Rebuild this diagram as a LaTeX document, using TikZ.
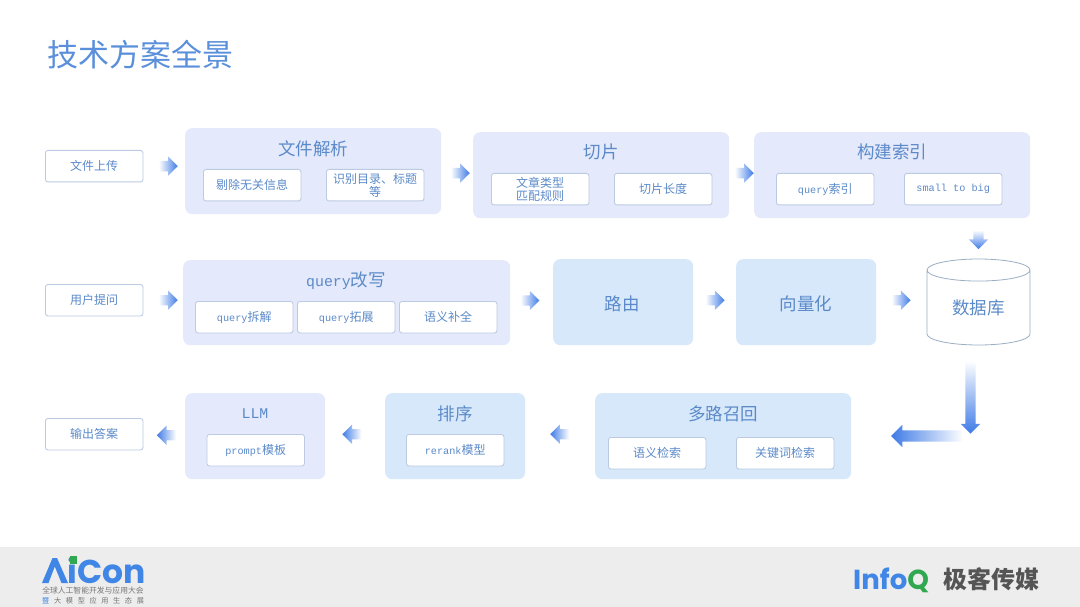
\documentclass[tikz,border=0pt]{standalone}
\usepackage{fontspec}
\usetikzlibrary{shapes.arrows,shapes.geometric,calc}
\setmainfont{Noto Sans CJK SC}
\setmonofont[Scale=0.85]{Liberation Mono}
\newfontfamily\logofont{Poppins}
\definecolor{txtblue}{HTML}{5B8AC9}
\definecolor{titleblue}{HTML}{5A8FDB}
\definecolor{panelA}{HTML}{E4E9FB}
\definecolor{panelB}{HTML}{D7E8FB}
\definecolor{edgeblue}{HTML}{BCCBE2}
\definecolor{arrowblue}{HTML}{3F7BE6}
\definecolor{footgrey}{HTML}{EDEDED}
\definecolor{logoblue}{HTML}{3F86E6}
\definecolor{logogreen}{HTML}{2FA84F}
\definecolor{logogrey}{HTML}{555555}
\definecolor{dbedge}{HTML}{9AAEC4}
\tikzset{
  panel/.style={fill=#1,rounded corners=7pt,draw=none,anchor=north west,inner sep=0pt},
  ptitle/.style={font=\fontsize{17.5}{20}\selectfont,text=txtblue,inner sep=0pt},
  bigtxt/.style={font=\fontsize{17.5}{20}\selectfont,text=txtblue,align=center,inner sep=0pt},
  inbox/.style={draw=edgeblue,line width=0.9pt,fill=white,rounded corners=2.5pt,anchor=north west,
    minimum width=97.5pt,minimum height=31.5pt,inner sep=0pt,align=center,text=txtblue,
    font=\fontsize{12}{13.5}\selectfont},
  arrbase/.style={single arrow,draw=none,inner sep=0pt,single arrow head extend=4.5pt,single arrow tip angle=90,
    minimum width=19pt,minimum height=19pt},
  arrR/.style={arrbase,left color=white,right color=arrowblue,xshift=-3.5pt},
  arrL/.style={arrbase,shape border rotate=180,left color=arrowblue,right color=white,xshift=3.5pt},
  arrD/.style={arrbase,shape border rotate=270,top color=white,bottom color=arrowblue}
}
\newcommand{\qq}[1]{{\ttfamily #1}}
\newcommand{\shaft}{\rule{0pt}{10pt}}
\newcommand{\vshaft}{\rule{10pt}{0pt}}
\begin{document}
\begin{tikzpicture}[x=1pt,y=-1pt]
\useasboundingbox (0,0) rectangle (1080,607);
\fill[white] (0,0) rectangle (1080,607);
\fill[footgrey] (0,547) rectangle (1080,607);

\node[anchor=west,inner sep=0pt,text=titleblue,font=\fontsize{31}{34}\selectfont] (title) at (47,55) {技术方案全景};

% row 1
\node[inbox] (upload) at (45,150) {文件上传};
\node[panel=panelA,minimum width=256pt,minimum height=86pt] (parse) at (185,128) {};
\node[ptitle] (parseT) at (313,149) {文件解析};
\node[inbox] (p1) at (203,169) {剔除无关信息};
\node[inbox] (p2) at (326,169) {识别目录、标题\\等};
\node[panel=panelA,minimum width=256pt,minimum height=86pt] (slice) at (473,132) {};
\node[ptitle] (sliceT) at (601,152) {切片};
\node[inbox] (s1) at (491,173) {文章类型\\匹配规则};
\node[inbox] (s2) at (614,173) {切片长度};
\node[panel=panelA,minimum width=276pt,minimum height=86pt] (index) at (754,132) {};
\node[ptitle] (indexT) at (892,152) {构建索引};
\node[inbox] (i1) at (776,173) {\qq{query}索引};
\node[inbox] (i2) at (904,173) {\qq{small to big}};

% row 2
\node[inbox] (ask) at (45,284) {用户提问};
\node[panel=panelA,minimum width=327pt,minimum height=85pt] (rewrite) at (183,260) {};
\node[ptitle] (rewriteT) at (346,281) {\qq{query}改写};
\node[inbox] (r1) at (195,301) {\qq{query}拆解};
\node[inbox] (r2) at (297,301) {\qq{query}拓展};
\node[inbox] (r3) at (399,301) {语义补全};
\node[panel=panelB,minimum width=140pt,minimum height=86pt,anchor=north west] (route) at (553,259) {};
\node[bigtxt] (routeT) at (622,304) {路由};
\node[panel=panelB,minimum width=140pt,minimum height=86pt,anchor=north west] (vector) at (736,259) {};
\node[bigtxt] (vectorT) at (806,304) {向量化};
\node[cylinder,shape border rotate=90,aspect=0.42,draw=dbedge,line width=0.8pt,fill=white,anchor=shape center,
  minimum width=103pt,minimum height=86pt,inner sep=0pt,bigtxt] (db) at (978.5,302) {数据库};

% row 3
\node[inbox] (output) at (45,418) {输出答案};
\node[panel=panelA,minimum width=140pt,minimum height=86pt] (llm) at (185,393) {};
\node[ptitle] (llmT) at (255,414) {\qq{LLM}};
\node[inbox] (l1) at (206.5,434) {\qq{prompt}模板};
\node[panel=panelB,minimum width=140pt,minimum height=86pt] (rank) at (385,393) {};
\node[ptitle] (rankT) at (455,414) {排序};
\node[inbox] (k1) at (406,434) {\qq{rerank}模型};
\node[panel=panelB,minimum width=256pt,minimum height=86pt] (recall) at (595,393) {};
\node[ptitle] (recallT) at (723,414) {多路召回};
\node[inbox] (c1) at (608,437) {语义检索};
\node[inbox] (c2) at (736,437) {关键词检索};

% block arrows, each placed on the way between its two boxes
\path (upload.east) -- (upload.east -| parse.west) node[arrR,pos=0.62] (a1) {\shaft};
\path (parse.east) ++(0,2) -- ($(slice.west)+(0,-2)$) node[arrR,pos=0.625] (a2) {\shaft};
\path (slice.east) -- (index.west) node[arrR,pos=0.64,yshift=2pt] (a3) {\shaft};
\path (index.south -| db.north) -- (db.north) node[arrD,pos=0.5,yshift=1.5pt] (a4) {\vshaft};
\path (ask.east) -- (ask.east -| rewrite.west) node[arrR,pos=0.65] (a5) {\shaft};
\path (rewrite.east) -- (route.west) node[arrR,pos=0.48,yshift=2pt] (a6) {\shaft};
\path (route.east) -- (vector.west) node[arrR,pos=0.53,yshift=2pt] (a7) {\shaft};
\path (vector.east) -- (vector.east -| db.west) node[arrR,pos=0.51,yshift=2pt] (a8) {\shaft};
\path (recall.west) -- (rank.east) node[arrL,pos=0.52,yshift=2pt] (a9) {\shaft};
\path (rank.west) -- (llm.east) node[arrL,pos=0.57,yshift=2pt] (a10) {\shaft};
\path (llm.west) -- (output.east) node[arrL,pos=0.47] (a11) {\shaft};

% two-part arrow leaving the database
\node[arrD,minimum height=73pt] (a12) at (970.5,394.5) {\vshaft};
\node[arrL,minimum width=22pt,minimum height=72pt,single arrow head extend=5.5pt] (a13) at (926.5,436) {\rule{0pt}{11pt}};

% AiCon logo
\fill[logoblue] (42,583) -- (52.5,558) -- (57,558) -- (68,583) -- (61.5,583) -- (54.8,566.5) -- (48.5,583) -- cycle;
\node[anchor=west,inner sep=0pt,text=logoblue,font=\logofont\bfseries\fontsize{33}{33}\selectfont] (aicon) at (67.5,570.5) {iCon};
\fill[logogreen] (69.5,556) rectangle (77,563.5);
\node[anchor=center,inner sep=0pt,text=logogrey!80,font=\fontsize{7.8}{8}\selectfont] (ai1) at (93,591) {全球人工智能开发与应用大会};
\node[anchor=west,inner sep=0pt,text=logoblue,font=\fontsize{7.2}{8}\selectfont] (ai2a) at (42,600.5) {暨};
\node[anchor=west,inner sep=0pt,text=logogrey!80,font=\fontsize{7.2}{8}\selectfont] (ai2) at (54,600.5) {大\hspace{4.6pt}模\hspace{4.6pt}型\hspace{4.6pt}应\hspace{4.6pt}用\hspace{4.6pt}生\hspace{4.6pt}态\hspace{4.6pt}展};

% InfoQ logo
\node[anchor=west,inner sep=0pt,text=logoblue,font=\logofont\bfseries\fontsize{27.5}{27.5}\selectfont] (infoq) at (853,580) {Info\textcolor{logogreen}{Q}};
\node[anchor=west,inner sep=0pt,text=logogrey,font=\bfseries\fontsize{24}{24}\selectfont] (geek) at (943,579.5) {极客传媒};
\end{tikzpicture}
\end{document}
